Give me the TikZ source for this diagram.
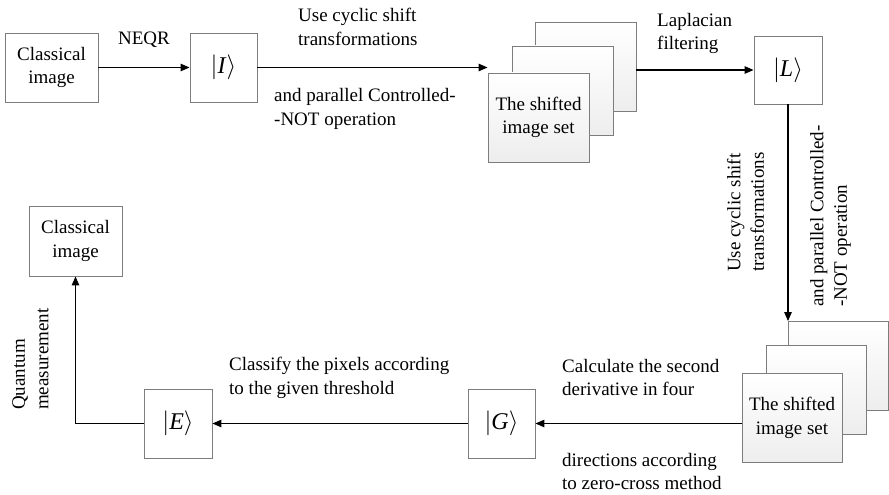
\documentclass[tikz,border=0pt]{standalone}
\usepackage{fontspec}
\setmainfont{Liberation Serif}
\usetikzlibrary{arrows.meta,calc}
\definecolor{boxgray}{RGB}{125,125,125}
\newcommand{\myket}[1]{{\fontsize{24}{28}\selectfont$|$\textit{#1}$\rangle$}}
\begin{document}
\begin{tikzpicture}[x=1pt,y=-1pt,
  every node/.style={font=\fontsize{19}{23.5}\selectfont},
  plainbox/.style={draw=boxgray,line width=0.9pt,fill=white,inner sep=0pt,align=center},
  stackbox/.style={draw=boxgray,line width=0.9pt,top color=white,bottom color=black!7,
     minimum width=101pt,minimum height=89pt,inner sep=0pt,align=center},
  lbl/.style={inner sep=0pt,align=left},
  arr/.style={line width=1.2pt,-{Triangle[length=9pt,width=7.5pt]}},
  ln/.style={line width=1.2pt}
]
\useasboundingbox (0,0) rectangle (889,495);
% top row
\node[plainbox,minimum width=93pt,minimum height=69pt] (c1) at (51.5,67.5) {Classical\\image};
\node[plainbox,minimum width=67pt,minimum height=69pt] (I) at (223.5,67.5) {\myket{I}};
\node[stackbox] (tb) at (585.5,67) {};
\node[stackbox] (tm) at (562.5,90.5) {};
\node[stackbox] (tf) at (538.5,117.5) {The shifted\\image set};
\node[plainbox,minimum width=68pt,minimum height=68pt] (L) at (788,70) {\myket{L}};
% bottom row
\node[stackbox,minimum width=100pt] (bb) at (838,366) {};
\node[stackbox,minimum width=100pt] (bm) at (816,390) {};
\node[stackbox,minimum width=100pt] (bf) at (792,418) {The shifted\\image set};
\node[plainbox,minimum width=67pt,minimum height=69pt] (G) at (501.5,423.5) {\myket{G}};
\node[plainbox,minimum width=68pt,minimum height=69pt] (E) at (178,423.5) {\myket{E}};
\node[plainbox,minimum width=93pt,minimum height=70pt] (c2) at (75.5,241) {Classical\\image};
% connectors
\draw[arr] (c1.east) -- (I.west);
\draw[arr] (I.east) -- (I.east -| tf.west);
\draw[arr] (L.west -| tb.east) -- (L.west);
\draw[arr] (L.south) -- (L.south |- bb.north);
\draw[arr] (G.east -| bf.west) -- (G.east);
\draw[arr] (G.west) -- (E.east);
\draw[arr] (E.west) -- (E.west -| c2.south) -- (c2.south);
% labels
\node[lbl] (neqr) at (144,40) {NEQR};
\node[lbl,anchor=west] (t1) at (298,27) {Use cyclic shift\\transformations};
\node[lbl,anchor=west] (t2) at (274,109) {and parallel Controlled-\\-NOT operation};
\node[lbl,anchor=west] (t3) at (657,33.5) {Laplacian\\filtering};
\node[lbl,anchor=west,rotate=90] (v1) at (745.5,272) {Use cyclic shift\\transformations};
\node[lbl,anchor=west,rotate=90] (v2) at (830.5,307) {and parallel Controlled-\\-NOT operation};
\node[lbl,anchor=west,rotate=90] (v3) at (30.5,410) {Quantum\\measurement};
\node[lbl,anchor=west] (t4) at (229,378) {Classify the pixels according\\to the given threshold};
\node[lbl,anchor=west] (t5) at (562,377.5) {Calculate the second\\derivative in four};
\node[lbl,anchor=west] (t6) at (562,471.5) {directions according\\to zero-cross method};
\end{tikzpicture}
\end{document}
